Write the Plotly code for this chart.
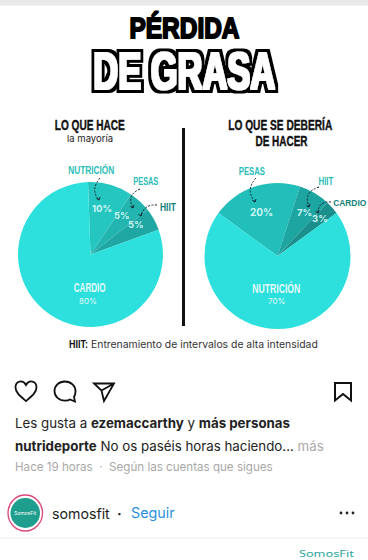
import json
import plotly.graph_objects as go

# ---- data ----
left_labels = ["NUTRICIÓN", "PESAS", "HIIT", "CARDIO"]
left_values = [10, 5, 5, 80]
left_colors = ["#26C6C0", "#22B4AE", "#1FA8A3", "#2DE0DD"]

right_labels = ["PESAS", "HIIT", "CARDIO", "NUTRICIÓN"]
right_values = [20, 7, 3, 70]
right_colors = ["#22BFBA", "#1CA5A1", "#1A8F8C", "#2DE0DD"]

W, H = 368, 560
BOLD = "Liberation Sans"
UI = "Inter"
TEAL = "#2BBDB8"
DTEAL = "#12807C"

fig = go.Figure()


def pie(labels, values, colors, cx, cy, r, rot):
    fig.add_trace(go.Pie(
        labels=labels, values=values, sort=False, direction="clockwise",
        rotation=rot, textinfo="none", hoverinfo="label+percent",
        marker=dict(colors=colors, line=dict(width=0)), showlegend=False,
        domain=dict(x=[(cx - r) / W, (cx + r) / W],
                    y=[1 - (cy + r) / H, 1 - (cy - r) / H]),
    ))


pie(left_labels, left_values, left_colors, 90.5, 254.5, 72.5, -2)
pie(right_labels, right_values, right_colors, 277.5, 256, 73, 306)

ann = []
fit = {}      # annotation index -> condensed text width
stroke = {}   # annotation index -> outline width
fat = []      # annotation indexes drawn with the fat outlined filter


def t(x, y, text, size, color="#000", font=UI, anchor="center", weight=None, width=None, outline=None):
    f = dict(size=size, color=color, family=font)
    if weight:
        f["weight"] = weight
    if width:
        fit[len(ann)] = width
    if outline:
        stroke[len(ann)] = outline
    ann.append(dict(x=x, y=y, xref="x", yref="y", text=text, showarrow=False,
                    xanchor=anchor, yanchor="middle", font=f))


def n(x, y, text, size, color, width, outline=None):
    t(x, y, text, size, color, BOLD, weight=700, width=width, outline=outline)


# title
n(184, 27, "PÉRDIDA", 30, "#000", 110, 2)
fat.append(len(ann))
n(184, 71, "DE GRASA", 52, "#fff", 182)

# headers
n(90, 124, "LO QUE HACE", 15.5, "#111", 70, 0.4)
t(90, 138, "la mayoría", 9.5, "#222", UI)
n(280, 124, "LO QUE SE DEBERÍA", 15.5, "#111", 104, 0.4)
n(281, 140, "DE HACER", 15.5, "#111", 52, 0.4)

# left labels
n(91, 170, left_labels[0], 10.5, TEAL, 46)
n(145.5, 181, left_labels[1], 10.5, TEAL, 25)
n(168, 207, left_labels[2], 10.5, DTEAL, 16)
t(102, 208, f"<b>{left_values[0]}%</b>", 9.5, "#C9F4F2", UI)
t(121.5, 215, f"<b>{left_values[1]}%</b>", 9.5, "#C9F4F2", UI)
t(136, 224, f"<b>{left_values[2]}%</b>", 9.5, "#C9F4F2", UI)
n(89, 288, left_labels[3], 12, "#E3FAF9", 32)
t(88, 301, f"{left_values[3]}%", 8, "#E3FAF9", UI)

# right labels
n(252, 170.5, right_labels[0], 10.5, TEAL, 26)
n(326, 181, right_labels[1], 10.5, TEAL, 15)
n(349.5, 202, right_labels[2], 9.5, DTEAL, 33)
t(261, 212, f"<b>{right_values[0]}%</b>", 10, "#C9F4F2", UI)
t(304, 212, f"<b>{right_values[1]}%</b>", 9.5, "#C9F4F2", UI)
t(320, 218, f"<b>{right_values[2]}%</b>", 9.5, "#C9F4F2", UI)
n(276, 288.5, right_labels[3], 12, "#E3FAF9", 48)
t(276.5, 301, f"{right_values[3]}%", 8, "#E3FAF9", UI)

# footnote
n(78.5, 344, "HIIT:", 10, "#111", 19)
t(204.5, 344, "Entrenamiento de intervalos de alta intensidad", 10.4, "#333", UI)

# instagram text
t(13, 423, 'Les gusta a <b style="font-weight:600">ezemaccarthy</b> y <b>más personas</b>', 13.3, "#222", UI, "left")
t(13, 446, '<b>nutrideporte</b> No os paséis horas haciendo... <span style="color:#aaa">más</span>', 13.3, "#222", UI, "left")
t(13, 467, "Hace 19 horas  ·  Según las cuentas que sigues", 11.6, "#A8A8A8", UI, "left")
t(50, 513, "somosfit", 14.2, "#222", UI, "left")
t(119, 513, "<b>·</b>", 14, "#222", UI)
t(129, 513, "Seguir", 14.3, "#2A8FE0", UI, "left")
t(25, 513, "SomosFit", 5, "#fff", UI)
t(327, 553, "SomosFit", 9, "#2BA79B", "Noto Sans", width=55)

shapes = [
    dict(type="rect", x0=0, x1=368, y0=0, y1=5.5, fillcolor="#E9E9E9", line_width=0, layer="below"),
    dict(type="rect", x0=182, x1=185, y0=128, y1=326, fillcolor="#111", line_width=0),
    dict(type="line", x0=0, x1=368, y0=538, y1=538, line=dict(color="#EEEEEE", width=1)),
    # logo
    dict(type="circle", x0=8, x1=42.5, y0=495, y1=531, fillcolor="#fff",
         line=dict(color="#D9487A", width=1.3)),
    dict(type="circle", x0=10.5, x1=40, y0=498, y1=528, fillcolor="#1F9E8E", line_width=0),
]


def curve(a, b, c, color="#123"):
    shapes.append(dict(type="path", path=f"M{a[0]},{a[1]} Q{b[0]},{b[1]} {c[0]},{c[1]}",
                       line=dict(color=color, width=1, dash="2px,1.5px")))
    shapes.append(dict(type="path", path=f"M{c[0]-2.5},{c[1]-1.5} L{c[0]},{c[1]} L{c[0]+1},{c[1]-3}",
                       line=dict(color=color, width=1)))


curve((100, 178), (90, 190), (99, 200))
curve((140, 189), (126, 195), (133, 208))
curve((157, 205), (144, 204), (141, 216))
curve((256, 178), (245, 190), (255, 202))
curve((319, 187), (303, 192), (309, 207))
curve((331, 202), (318, 201), (318, 213))

icon = dict(color="#111", width=1.8)
shapes.append(dict(type="path", path="M26,401 C20,396 15.5,392.5 15.5,387.5 C15.5,380.5 23,379.5 26,385 C29,379.5 36.5,380.5 36.5,387.5 C36.5,392.5 32,396 26,401 Z", line=icon))
shapes.append(dict(type="path", path="M65,381.5 C58.5,381.5 54.5,386 54.5,391 C54.5,396.5 59,400.7 65,400.7 C67,400.7 69,400.2 70,399.5 L75,401.5 L74,397 C75,395.5 75.5,393.5 75.5,391 C75.5,386 71,381.5 65,381.5 Z", line=icon))
shapes.append(dict(type="path", path="M94,383.5 L114,383.5 L104,401 L101.5,390.5 Z M101.5,390.5 L114,383.5", line=icon))
shapes.append(dict(type="path", path="M335,383 L351,383 L351,400.5 L343,394 L335,400.5 Z", line=dict(color="#111", width=2)))
for x in (341, 347, 353):
    shapes.append(dict(type="circle", x0=x - 1.4, x1=x + 1.4, y0=511.6, y1=514.4, fillcolor="#222", line_width=0))

fig.update_layout(
    width=W, height=H, margin=dict(l=0, r=0, t=0, b=0), paper_bgcolor="#fff", plot_bgcolor="rgba(0,0,0,0)",
    xaxis=dict(range=[0, W], visible=False, fixedrange=True),
    yaxis=dict(range=[H, 0], visible=False, fixedrange=True),
    annotations=ann, shapes=shapes,
)
fig.add_trace(go.Scatter(x=[0], y=[0], mode="markers", marker=dict(opacity=0), showlegend=False, hoverinfo="skip"))

js = """
document.body.style.margin='0';document.documentElement.style.overflow='hidden';
var FIT=%s, STROKE=%s, FAT=%s;
var defs=document.createElementNS('http://www.w3.org/2000/svg','svg');
defs.setAttribute('width','0');defs.setAttribute('height','0');defs.style.position='absolute';
defs.innerHTML='<defs><filter id="fatOutline" filterUnits="userSpaceOnUse" x="0" y="0" width="368" height="120">'
 +'<feMorphology in="SourceAlpha" operator="dilate" radius="4 3.5" result="o"/>'
 +'<feFlood flood-color="#000"/><feComposite in2="o" operator="in" result="black"/>'
 +'<feMorphology in="SourceGraphic" operator="dilate" radius="1 0.5" result="w"/>'
 +'<feMerge><feMergeNode in="black"/><feMergeNode in="w"/></feMerge></filter></defs>';
document.body.appendChild(defs);
function sel(i){return document.querySelector('.annotation[data-index="'+i+'"] text.annotation-text');}
function condense(){
  Object.keys(FIT).forEach(function(i){
    var el=sel(i);
    if(el){el.setAttribute('textLength',FIT[i]);el.setAttribute('lengthAdjust','spacingAndGlyphs');}
  });
  Object.keys(STROKE).forEach(function(i){
    var el=sel(i);
    if(el){el.style.stroke='#000';el.style.strokeWidth=STROKE[i]+'px';el.style.paintOrder='stroke';el.style.strokeLinejoin='round';}
  });
  FAT.forEach(function(i){var el=sel(i);if(el){el.setAttribute('filter','url(#fatOutline)');}});
}
condense();setTimeout(condense,0);setTimeout(condense,100);
""" % (json.dumps(fit), json.dumps(stroke), json.dumps(fat))
fig.write_html("out.html", config=dict(displayModeBar=False), post_script=js)
